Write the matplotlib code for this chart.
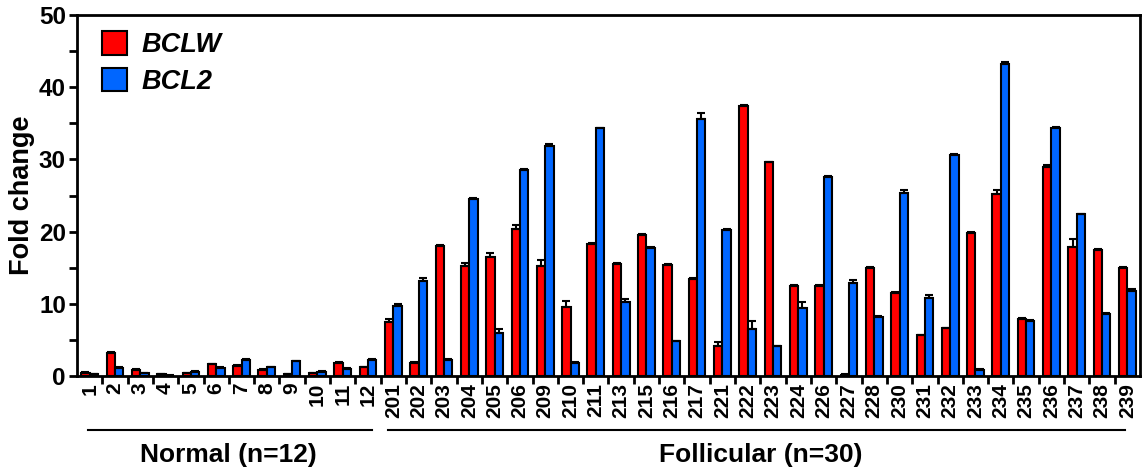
import numpy as np
from matplotlib import pyplot as plt
from matplotlib.patches import Patch

plt.rcParams['font.family'] = ['Liberation Sans', 'DejaVu Sans']
plt.rcParams['font.weight'] = 'bold'

# sample ids
normal = ["1", "2", "3", "4", "5", "6", "7", "8", "9", "10", "11", "12"]
follicular = ["201", "202", "203", "204", "205", "206", "209", "210", "211", "213",
              "215", "216", "217", "221", "222", "223", "224", "226", "227", "228",
              "230", "231", "232", "233", "234", "235", "236", "237", "238", "239"]
samples = normal + follicular

# fold change values
bclw = [0.4, 3.2, 0.8, 0.2, 0.4, 1.6, 1.4, 0.8, 0.2, 0.4, 1.8, 1.2,
        7.5, 1.8, 18.0, 15.3, 16.5, 20.3, 15.2, 9.6, 18.3, 15.5,
        19.5, 15.4, 13.4, 4.2, 37.4, 29.6, 12.4, 12.5, 0.15, 14.9,
        11.5, 5.6, 6.6, 19.8, 25.2, 7.9, 29.0, 17.8, 17.5, 14.9]
bcl2 = [0.2, 1.1, 0.4, 0.05, 0.6, 1.1, 2.2, 1.2, 2.0, 0.6, 1.0, 2.2,
        9.7, 13.1, 2.2, 24.5, 5.9, 28.5, 31.9, 1.8, 34.3, 10.3,
        17.7, 4.8, 35.6, 20.2, 6.5, 4.1, 9.4, 27.5, 12.9, 8.2,
        25.3, 10.8, 30.6, 0.8, 43.3, 7.6, 34.3, 22.4, 8.6, 11.7]

# upper error bars
bclw_err = [0.1, 0.1, 0.1, 0.05, 0.05, 0.1, 0.1, 0.1, 0.05, 0.05, 0.1, 0.1,
            0.4, 0.1, 0.2, 0.4, 0.6, 0.6, 0.9, 0.8, 0.1, 0.1,
            0.2, 0.1, 0.1, 0.5, 0.1, 0.1, 0.2, 0.1, 0.05, 0.2,
            0.1, 0.1, 0.1, 0.2, 0.5, 0.1, 0.2, 1.2, 0.1, 0.2]
bcl2_err = [0.05, 0.1, 0.05, 0.02, 0.05, 0.1, 0.1, 0.1, 0.1, 0.05, 0.1, 0.1,
            0.2, 0.4, 0.1, 0.2, 0.6, 0.2, 0.2, 0.1, 0.1, 0.4,
            0.2, 0.1, 0.8, 0.1, 1.1, 0.1, 0.8, 0.2, 0.4, 0.1,
            0.4, 0.4, 0.2, 0.1, 0.2, 0.1, 0.2, 0.1, 0.1, 0.4]

red = "#ff0000"
blue = "#0066ff"

fig = plt.figure(figsize=(11.44, 4.74), dpi=100)
ax = fig.add_axes([0.0673, 0.207, 0.9292, 0.761])

x = np.arange(len(samples))
w = 0.33
n = len(samples)
ekw = dict(elinewidth=1.5, capthick=1.5, ecolor="black")
ax.bar(x - w / 2, bclw, w, color=red, edgecolor="black", linewidth=1.5,
       yerr=[np.zeros(n), bclw_err], capsize=3, error_kw=ekw, label="BCLW")
ax.bar(x + w / 2, bcl2, w, color=blue, edgecolor="black", linewidth=1.5,
       yerr=[np.zeros(n), bcl2_err], capsize=3, error_kw=ekw, label="BCL2")

ax.set_xlim(-0.5, n - 0.5)
ax.set_ylim(0, 50)
ax.set_yticks(np.arange(0, 51, 10))
ax.set_yticks(np.arange(5, 50, 10), minor=True)
ax.tick_params(axis="y", which="major", labelsize=17.5, width=2, length=6, pad=2)
ax.tick_params(axis="y", which="minor", width=2, length=6)

# labels at bar-pair centres, tick marks at group boundaries
ax.set_xticks(x)
ax.set_xticklabels(samples, rotation=90, fontsize=15, fontweight="bold")
ax.set_xticks(np.arange(0.5, n - 0.5, 1), minor=True)
ax.tick_params(axis="x", which="major", length=0, pad=5)
ax.tick_params(axis="x", which="minor", length=6, width=2)

for s in ax.spines.values():
    s.set_linewidth(2)

ax.set_ylabel("Fold change", fontsize=19.5, fontweight="bold", labelpad=3)

handles = [Patch(facecolor=red, edgecolor="black", linewidth=1.5),
           Patch(facecolor=blue, edgecolor="black", linewidth=1.5)]
leg = ax.legend(handles, ["BCLW", "BCL2"], loc="upper left", frameon=False,
                prop=dict(size=19.5, weight="bold", style="italic"),
                handlelength=0.95, handleheight=0.95, handletextpad=0.5,
                labelspacing=0.35, borderaxespad=0.2, bbox_to_anchor=(0.008, 1.0))

# group brackets below the tick labels
trans = ax.get_xaxis_transform()
nn = len(normal)
ax.plot([-0.07, nn - 0.84], [-0.15, -0.15], color="black", lw=1.5,
        transform=trans, clip_on=False)
ax.plot([nn - 0.2, n - 1.1], [-0.15, -0.15], color="black", lw=1.5,
        transform=trans, clip_on=False)
ax.text((nn - 1) / 2, -0.22, "Normal (n=%d)" % len(normal), transform=trans,
        ha="center", va="center", fontsize=19, fontweight="bold")
ax.text(nn + (len(follicular) - 1) / 2, -0.22, "Follicular (n=%d)" % len(follicular),
        transform=trans, ha="center", va="center", fontsize=19, fontweight="bold")

fig.savefig("out.png", dpi=100)
